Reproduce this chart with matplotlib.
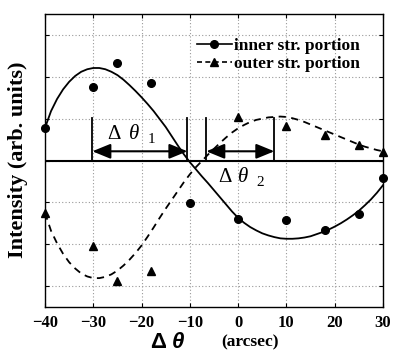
import matplotlib
matplotlib.use("Agg")
import matplotlib.pyplot as plt
from matplotlib.lines import Line2D

plt.rcParams['font.family'] = ['Liberation Serif', 'DejaVu Serif']

# measured points
inner_x = [-40, -30, -25, -18, -10, 0, 10, 18, 25, 30]
inner_y = [0.77, 1.76, 2.32, 1.84, -1.01, -1.40, -1.41, -1.65, -1.28, -0.43]
outer_x = [-40, -30, -25, -18, 0, 10, 18, 25, 30]
outer_y = [-1.25, -2.04, -2.89, -2.65, 1.05, 0.82, 0.60, 0.37, 0.21]

# fitted curves
fit_x = [-40, -38.75, -37.5, -36.25, -35, -33.75, -32.5, -31.25, -30, -28.75, -27.5, -26.25,
         -25, -23.75, -22.5, -21.25, -20, -18.75, -17.5, -16.25, -15, -13.75, -12.5, -11.25,
         -10, -8.75, -7.5, -6.25, -5, -3.75, -2.5, -1.25, 0, 1.25, 2.5, 3.75, 5, 6.25, 7.5,
         8.75, 10, 11.25, 12.5, 13.75, 15, 16.25, 17.5, 18.75, 20, 21.25, 22.5, 23.75, 25,
         26.25, 27.5, 28.75, 30]
inner_fit = [0.78, 1.18, 1.47, 1.70, 1.88, 2.02, 2.12, 2.18, 2.21, 2.21, 2.18, 2.12,
             2.04, 1.93, 1.80, 1.66, 1.51, 1.35, 1.18, 0.99, 0.80, 0.58, 0.36, 0.15,
             -0.04, -0.21, -0.38, -0.54, -0.71, -0.88, -1.05, -1.22, -1.37, -1.49, -1.59,
             -1.67, -1.74, -1.79, -1.83, -1.86, -1.87, -1.87, -1.86, -1.84, -1.81, -1.76,
             -1.71, -1.65, -1.58, -1.50, -1.41, -1.31, -1.20, -1.07, -0.93, -0.77, -0.59]
outer_fit = [-1.25, -1.68, -1.98, -2.23, -2.43, -2.58, -2.70, -2.77, -2.81, -2.81, -2.78,
             -2.72, -2.63, -2.51, -2.37, -2.21, -2.03, -1.82, -1.60, -1.37, -1.15, -0.94,
             -0.73, -0.52, -0.33, -0.16, -0.01, 0.14, 0.28, 0.42, 0.55, 0.67, 0.77, 0.85,
             0.92, 0.97, 1.00, 1.03, 1.04, 1.05, 1.04, 1.01, 0.97, 0.92, 0.86, 0.80, 0.74,
             0.68, 0.62, 0.56, 0.50, 0.44, 0.38, 0.33, 0.29, 0.25, 0.22]

xticks = [-40, -30, -20, -10, 0, 10, 20, 30]
yticks = [-3, -2, -1, 0, 1, 2, 3]

# delta-theta annotations: (left x, right x)
dt1 = (-30.2, -10.5)
dt2 = (-6.6, 7.5)

W, H = 393, 356
fig = plt.figure(figsize=(W / 100, H / 100), dpi=100)
ax = fig.add_axes([45 / W, 1 - 307 / H, 338 / W, 293 / H])
ax.set_xlim(-40, 30)
ax.set_ylim(-3.5, 3.5)
ax.set_xticks(xticks)
ax.set_yticks(yticks)
ax.set_yticklabels([])
ax.grid(True, linestyle=(0, (1, 2)), color='#999999', linewidth=0.8)
ax.axhline(0, color='black', linewidth=1.5, zorder=2)
ax.tick_params(direction='in', top=True, right=True, length=3, width=0.8, pad=6)
for lab in ax.get_xticklabels():
    lab.set_fontsize(12)
    lab.set_fontweight('bold')
for s in ax.spines.values():
    s.set_linewidth(1.0)

ax.plot(fit_x, inner_fit, color='black', linewidth=1.3, zorder=3)
ax.plot(fit_x, outer_fit, color='black', linewidth=1.3, linestyle=(0, (4, 3)), zorder=3)
ax.plot(inner_x, inner_y, 'o', color='black', markersize=5.5, zorder=4, clip_on=False)
ax.plot(outer_x, outer_y, '^', color='black', markersize=5.5, zorder=4, clip_on=False)

# annotations
for (a, b) in (dt1, dt2):
    for xv in (a, b):
        ax.plot([xv, xv], [0, 1.02], color='black', linewidth=1.3, zorder=3)
    ax.annotate('', xy=(a, 0.22), xytext=(b, 0.22),
                arrowprops=dict(arrowstyle='<|-|>,head_length=1.1,head_width=0.45',
                                color='black', lw=1.5, shrinkA=0, shrinkB=0), zorder=5)

for (xd, xt, xs, yc, sub) in ((-27.2, -22.6, -18.8, 0.62, '1'), (-4.2, -0.1, 3.8, -0.41, '2')):
    ax.text(xd, yc, 'Δ', fontsize=15, ha='left', va='center')
    ax.text(xt, yc, 'θ', fontsize=15, style='italic', ha='left', va='center')
    ax.text(xs, yc - 0.12, sub, fontsize=11, ha='left', va='center')

# legend
h1 = Line2D([], [], color='black', linewidth=1.2, marker='o', markersize=5.5)
h2 = Line2D([], [], color='black', linewidth=1.2, linestyle=(0, (3, 2)), marker='^', markersize=5.5)
ax.legend([h1, h2], ['inner str. portion', 'outer str. portion'],
          loc='upper left', bbox_to_anchor=(197 / W, 1 - 38 / H), bbox_transform=fig.transFigure,
          frameon=False, prop={'family': 'Liberation Serif', 'weight': 'bold', 'size': 12.5},
          handlelength=2.0, handletextpad=0.15, labelspacing=0.1, borderpad=0, borderaxespad=0)

# axis labels
fig.text(18 / W, 1 - 160 / H, 'Intensity (arb. units)', rotation=90, ha='center', va='center',
         fontsize=16, fontweight='bold')
fig.text(150 / W, 1 - 342 / H, 'Δ', family='Liberation Sans', fontweight='bold', fontsize=16,
         ha='left', va='center')
fig.text(172 / W, 1 - 342 / H, 'θ', family='Liberation Sans', fontweight='bold', style='italic',
         fontsize=16, ha='left', va='center')
fig.text(221 / W, 1 - 342 / H, '(arcsec)', fontweight='bold', fontsize=12.5, ha='left', va='center')

fig.savefig('out.png', dpi=100)
